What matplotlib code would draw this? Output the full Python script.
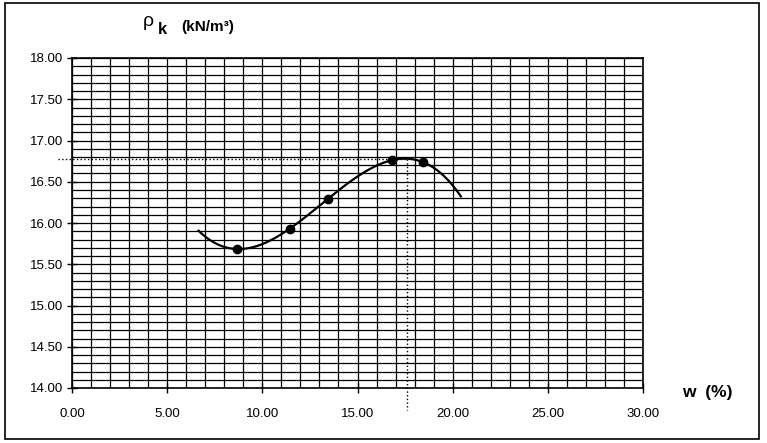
"""Compaction curve (Proctor): dry unit weight vs water content."""
import matplotlib.pyplot as plt
import numpy as np
from matplotlib.patches import Rectangle
from matplotlib.ticker import MultipleLocator, FormatStrFormatter

plt.rcParams['font.family'] = ['Liberation Sans', 'DejaVu Sans']

# measured points
water_content = [8.65, 11.45, 13.44, 16.83, 18.43]
unit_weight = [15.685, 15.93, 16.295, 16.76, 16.74]

# optimum
w_opt = 17.6
rho_max = 16.78

x_ticks = [0, 5, 10, 15, 20, 25, 30]
y_ticks = [14.0, 14.5, 15.0, 15.5, 16.0, 16.5, 17.0, 17.5, 18.0]

W, H = 767, 443
fig = plt.figure(figsize=(W / 100, H / 100), dpi=100)
ax = fig.add_axes([72 / W, 55 / H, 571 / W, 330 / H])

# grid: 1.0 on w, 0.1 on rho
ax.xaxis.set_major_locator(MultipleLocator(5))
ax.xaxis.set_minor_locator(MultipleLocator(1))
ax.yaxis.set_major_locator(MultipleLocator(0.5))
ax.yaxis.set_minor_locator(MultipleLocator(0.1))
ax.grid(which='both', color='black', linewidth=0.9)
ax.set_axisbelow(True)

ax.set_xlim(x_ticks[0], x_ticks[-1])
ax.set_ylim(y_ticks[0], y_ticks[-1])
ax.set_xticks(x_ticks)
ax.set_yticks(y_ticks)
ax.xaxis.set_major_formatter(FormatStrFormatter('%.2f'))
ax.yaxis.set_major_formatter(FormatStrFormatter('%.2f'))
ax.tick_params(which='major', direction='inout', length=7, width=1,
               labelsize=9.5)
ax.tick_params(axis='x', which='major', pad=11)
ax.tick_params(axis='y', which='major', pad=3)
ax.tick_params(which='minor', length=0)
for side in ax.spines.values():
    side.set_linewidth(1.2)

# cubic trendline, extended 2 units each side (like the spreadsheet)
coef = np.polyfit(water_content, unit_weight, 3)
xs = np.linspace(water_content[0] - 2, water_content[-1] + 2, 200)
ax.plot(xs, np.polyval(coef, xs), color='black', linewidth=1.6, zorder=3)
ax.plot(water_content, unit_weight, 'o', color='black', markersize=6,
        zorder=4)

# dotted guide lines to the optimum
ax.plot([-0.75, w_opt], [rho_max, rho_max], color='black', linestyle=':',
        linewidth=1, clip_on=False, zorder=3)
ax.plot([w_opt, w_opt], [rho_max, 13.73], color='black', linestyle=':',
        linewidth=1, clip_on=False, zorder=3)

# axis titles
fig.text(143 / W, 1 - 22 / H, 'ρ', fontsize=14, va='center', ha='left')
fig.text(158 / W, 1 - 29 / H, 'k', fontsize=12, fontweight='bold',
         va='center', ha='left')
fig.text(181 / W, 1 - 27 / H, '(kN/m³)', fontsize=11, fontweight='bold',
         va='center', ha='left')
fig.text(682 / W, 1 - 393 / H, 'w  (%)', fontsize=12.5, fontweight='bold',
         va='center', ha='left')

# outer frame
fig.patches.append(Rectangle((5 / W, 4 / H), 754 / W, 436 / H,
                             transform=fig.transFigure, fill=False,
                             edgecolor='black', linewidth=1.2))

fig.savefig('out.png', dpi=100)
